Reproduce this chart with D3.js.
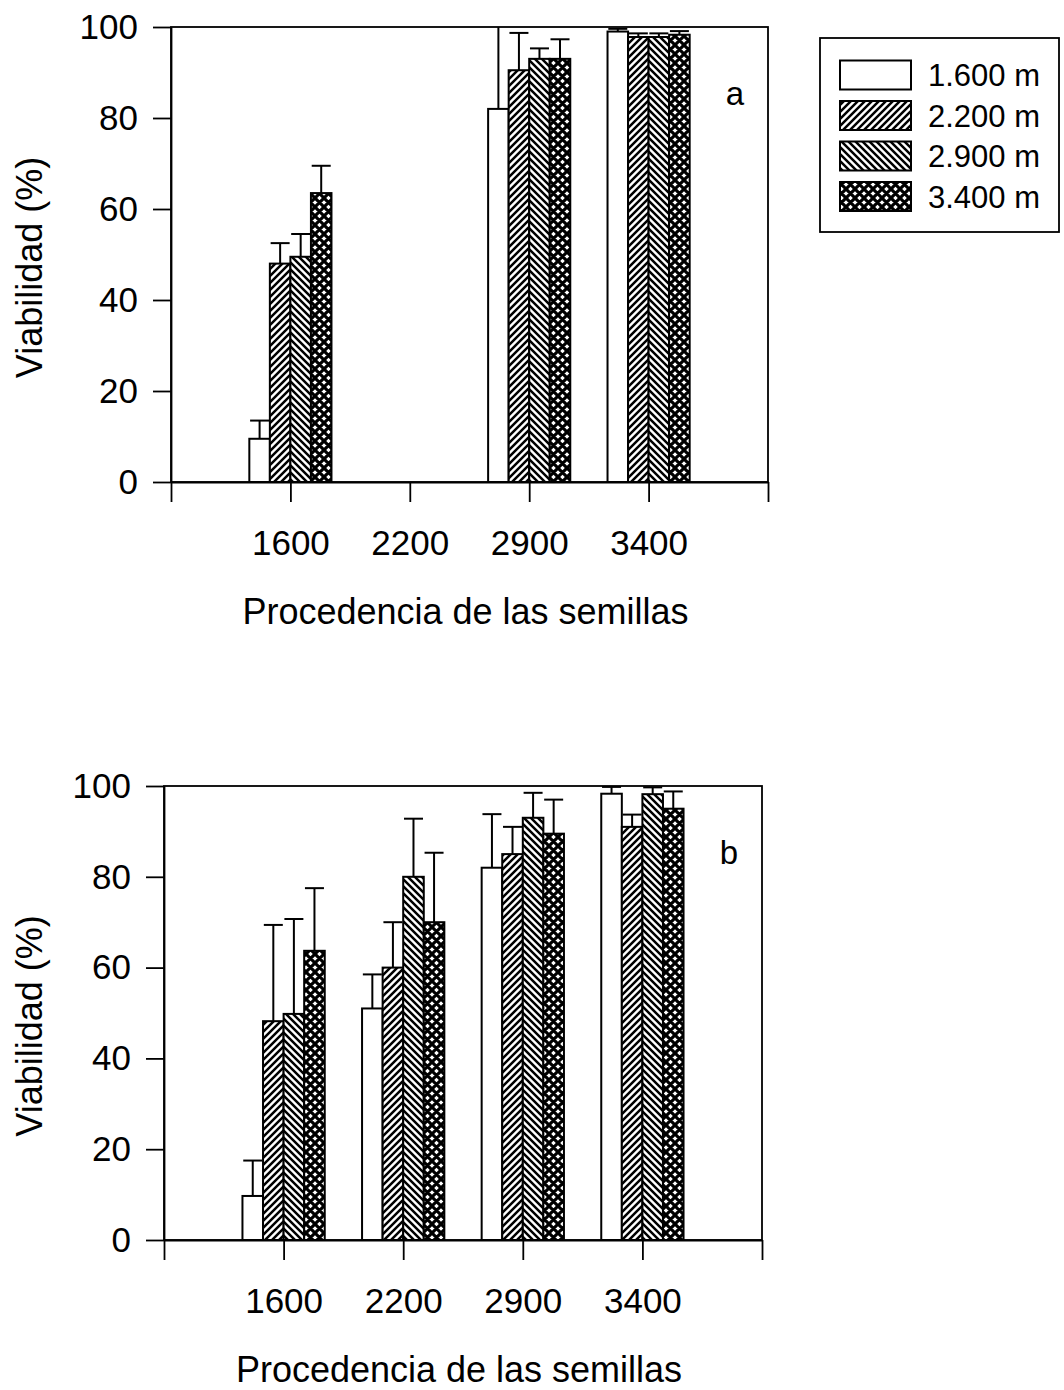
<!DOCTYPE html>
<html><head><meta charset="utf-8">
<script src="https://cdn.jsdelivr.net/npm/d3@7"></script>
<style>
body{margin:0;background:#fff}
svg text{font-family:"Liberation Sans",Arial,Helvetica,sans-serif;fill:#000}
</style>
</head><body>
<svg id="chart" width="1064" height="1390"></svg>
<script>
// ---------- data ----------
const categories = ["1600", "2200", "2900", "3400"];
const seriesNames = ["1.600 m", "2.200 m", "2.900 m", "3.400 m"];
const yTickValues = [0, 20, 40, 60, 80, 100];
const xTitle = "Procedencia de las semillas";
const yTitle = "Viabilidad (%)";

// panel a : means per series (one value per category, null = no bar)
const a_mean_1600 = [9.5, null, 82, 99];
const a_mean_2200 = [48, null, 90.5, 97.8];
const a_mean_2900 = [49.5, null, 93, 97.8];
const a_mean_3400 = [63.5, null, 93, 98.3];
// panel a : upper error
const a_err_1600 = [4, null, 20, 0.6];
const a_err_2200 = [4.5, null, 8.2, 0.8];
const a_err_2900 = [5, null, 2.3, 0.8];
const a_err_3400 = [6, null, 4.3, 0.8];

// panel b : means per series
const b_mean_1600 = [9.7, 51, 82, 98.3];
const b_mean_2200 = [48.2, 60, 85, 91];
const b_mean_2900 = [49.8, 80, 93, 98.2];
const b_mean_3400 = [63.7, 70, 89.5, 95];
// panel b : upper error
const b_err_1600 = [7.8, 7.5, 11.8, 1.5];
const b_err_2200 = [21.2, 10, 6, 2.7];
const b_err_2900 = [20.9, 12.8, 5.5, 1.5];
const b_err_3400 = [13.8, 15.3, 7.5, 3.8];

const panels = [
  {label: "a", means: [a_mean_1600, a_mean_2200, a_mean_2900, a_mean_3400],
   errs: [a_err_1600, a_err_2200, a_err_2900, a_err_3400],
   left: 171, right: 768, top: 27, bottom: 482},
  {label: "b", means: [b_mean_1600, b_mean_2200, b_mean_2900, b_mean_3400],
   errs: [b_err_1600, b_err_2200, b_err_2900, b_err_3400],
   left: 164, right: 762, top: 786, bottom: 1240}
];

// ---------- drawing ----------
const svg = d3.select("#chart");
const defs = svg.append("defs");

function makePatterns() {
  // 2.200 m : forward diagonal lines
  const p1 = defs.append("pattern").attr("id", "pat1")
    .attr("patternUnits", "userSpaceOnUse").attr("width", 7).attr("height", 7);
  p1.append("rect").attr("width", 7).attr("height", 7).attr("fill", "#fff");
  p1.append("path").attr("d", "M-1,8 L8,-1 M-4,4 L4,-4 M3,11 L11,3")
    .attr("stroke", "#000").attr("stroke-width", 2.5);
  // 2.900 m : backward diagonal lines
  const p2 = defs.append("pattern").attr("id", "pat2")
    .attr("patternUnits", "userSpaceOnUse").attr("width", 7).attr("height", 7);
  p2.append("rect").attr("width", 7).attr("height", 7).attr("fill", "#fff");
  p2.append("path").attr("d", "M-1,-1 L8,8 M-4,3 L4,11 M3,-4 L11,4")
    .attr("stroke", "#000").attr("stroke-width", 2.5);
  // 3.400 m : heavy cross hatch (white diamond holes)
  const T = 9;
  const p3 = defs.append("pattern").attr("id", "pat3")
    .attr("patternUnits", "userSpaceOnUse").attr("width", T).attr("height", T);
  p3.append("rect").attr("width", T).attr("height", T).attr("fill", "#fff");
  p3.append("path").attr("d", `M-1,-1 L${T+1},${T+1} M-1,${T+1} L${T+1},-1 M-5,4 L4,-5 M5,${T+5} L${T+5},5 M-5,5 L4,${T+5} M5,-5 L${T+5},4`)
    .attr("stroke", "#000").attr("stroke-width", 3.1);
}
makePatterns();
const fills = ["#fff", "url(#pat1)", "url(#pat2)", "url(#pat3)"];

panels.forEach((p, pi) => {
  const g = svg.append("g");
  const x = d3.scaleLinear().domain([0, 5]).range([p.left, p.right]);
  const y = d3.scaleLinear().domain([0, 100]).range([p.bottom, p.top]);
  const step = x(1) - x(0);
  const bw = step * 0.172;

  const clipId = "clip" + pi;
  defs.append("clipPath").attr("id", clipId).append("rect")
    .attr("x", p.left).attr("y", p.top).attr("width", p.right - p.left).attr("height", p.bottom - p.top);

  // bars
  const bars = [];
  p.means.forEach((arr, si) => arr.forEach((v, ci) => {
    if (v != null) bars.push({si, ci, v, e: p.errs[si][ci]});
  }));
  const barX = d => x(d.ci + 1) + (d.si - 2) * bw;

  // error bars (upper only)
  const eg = g.append("g").attr("clip-path", `url(#${clipId})`);
  eg.selectAll("line.ev").data(bars).join("line")
    .attr("x1", d => barX(d) + bw / 2).attr("x2", d => barX(d) + bw / 2)
    .attr("y1", d => y(d.v)).attr("y2", d => y(d.v + d.e))
    .attr("stroke", "#000").attr("stroke-width", 2);
  eg.selectAll("line.ec").data(bars.filter(d => d.v + d.e < 100.5)).join("line")
    .attr("x1", d => barX(d) + bw / 2 - 9.5).attr("x2", d => barX(d) + bw / 2 + 9.5)
    .attr("y1", d => y(d.v + d.e)).attr("y2", d => y(d.v + d.e))
    .attr("stroke", "#000").attr("stroke-width", 2);

  g.selectAll("rect.bar").data(bars).join("rect")
    .attr("x", barX).attr("width", bw)
    .attr("y", d => y(d.v)).attr("height", d => y(0) - y(d.v))
    .attr("fill", d => fills[d.si]).attr("stroke", "#000").attr("stroke-width", 2);

  // frame
  g.append("rect").attr("x", p.left).attr("y", p.top)
    .attr("width", p.right - p.left).attr("height", p.bottom - p.top)
    .attr("fill", "none").attr("stroke", "#000").attr("stroke-width", 1.8);

  // y axis
  const ya = g.append("g").attr("transform", `translate(${p.left},0)`)
    .call(d3.axisLeft(y).tickValues(yTickValues).tickSize(18).tickSizeOuter(0).tickPadding(15));
  ya.select(".domain").attr("stroke-width", 1.8);
  ya.selectAll(".tick line").attr("stroke-width", 1.8);
  ya.selectAll(".tick text").attr("font-size", 35).attr("font-family", "Liberation Sans, Arial, sans-serif");

  // x axis
  const xa = g.append("g").attr("transform", `translate(0,${p.bottom})`)
    .call(d3.axisBottom(x).tickValues([0, 1, 2, 3, 4, 5]).tickSize(20).tickSizeOuter(0).tickPadding(28)
      .tickFormat(d => categories[d - 1] || ""));
  xa.select(".domain").attr("stroke-width", 1.8);
  xa.selectAll(".tick line").attr("stroke-width", 1.8);
  xa.selectAll(".tick text").attr("font-size", 35).attr("font-family", "Liberation Sans, Arial, sans-serif");

  // titles
  g.append("text").attr("x", (p.left + p.right) / 2 - 4).attr("y", p.bottom + 142)
    .attr("text-anchor", "middle").attr("font-size", 36).text(xTitle);
  g.append("text").attr("transform", `translate(42,${(p.top + p.bottom) / 2 + 13}) rotate(-90)`)
    .attr("text-anchor", "middle").attr("font-size", 36).text(yTitle);

  // panel letter
  g.append("text").attr("x", p.right - 33).attr("y", p.top + 78)
    .attr("text-anchor", "middle").attr("font-size", 33).text(p.label);
});

// legend
const lg = svg.append("g");
lg.append("rect").attr("x", 820).attr("y", 38).attr("width", 239).attr("height", 194)
  .attr("fill", "none").attr("stroke", "#000").attr("stroke-width", 1.8);
seriesNames.forEach((name, i) => {
  const cy = 75 + i * 40.5;
  lg.append("rect").attr("x", 840).attr("y", cy - 14.5).attr("width", 71).attr("height", 29)
    .attr("fill", fills[i]).attr("stroke", "#000").attr("stroke-width", 2);
  lg.append("text").attr("x", 928).attr("y", cy + 11).attr("font-size", 31).text(name);
});
</script>
</body></html>
